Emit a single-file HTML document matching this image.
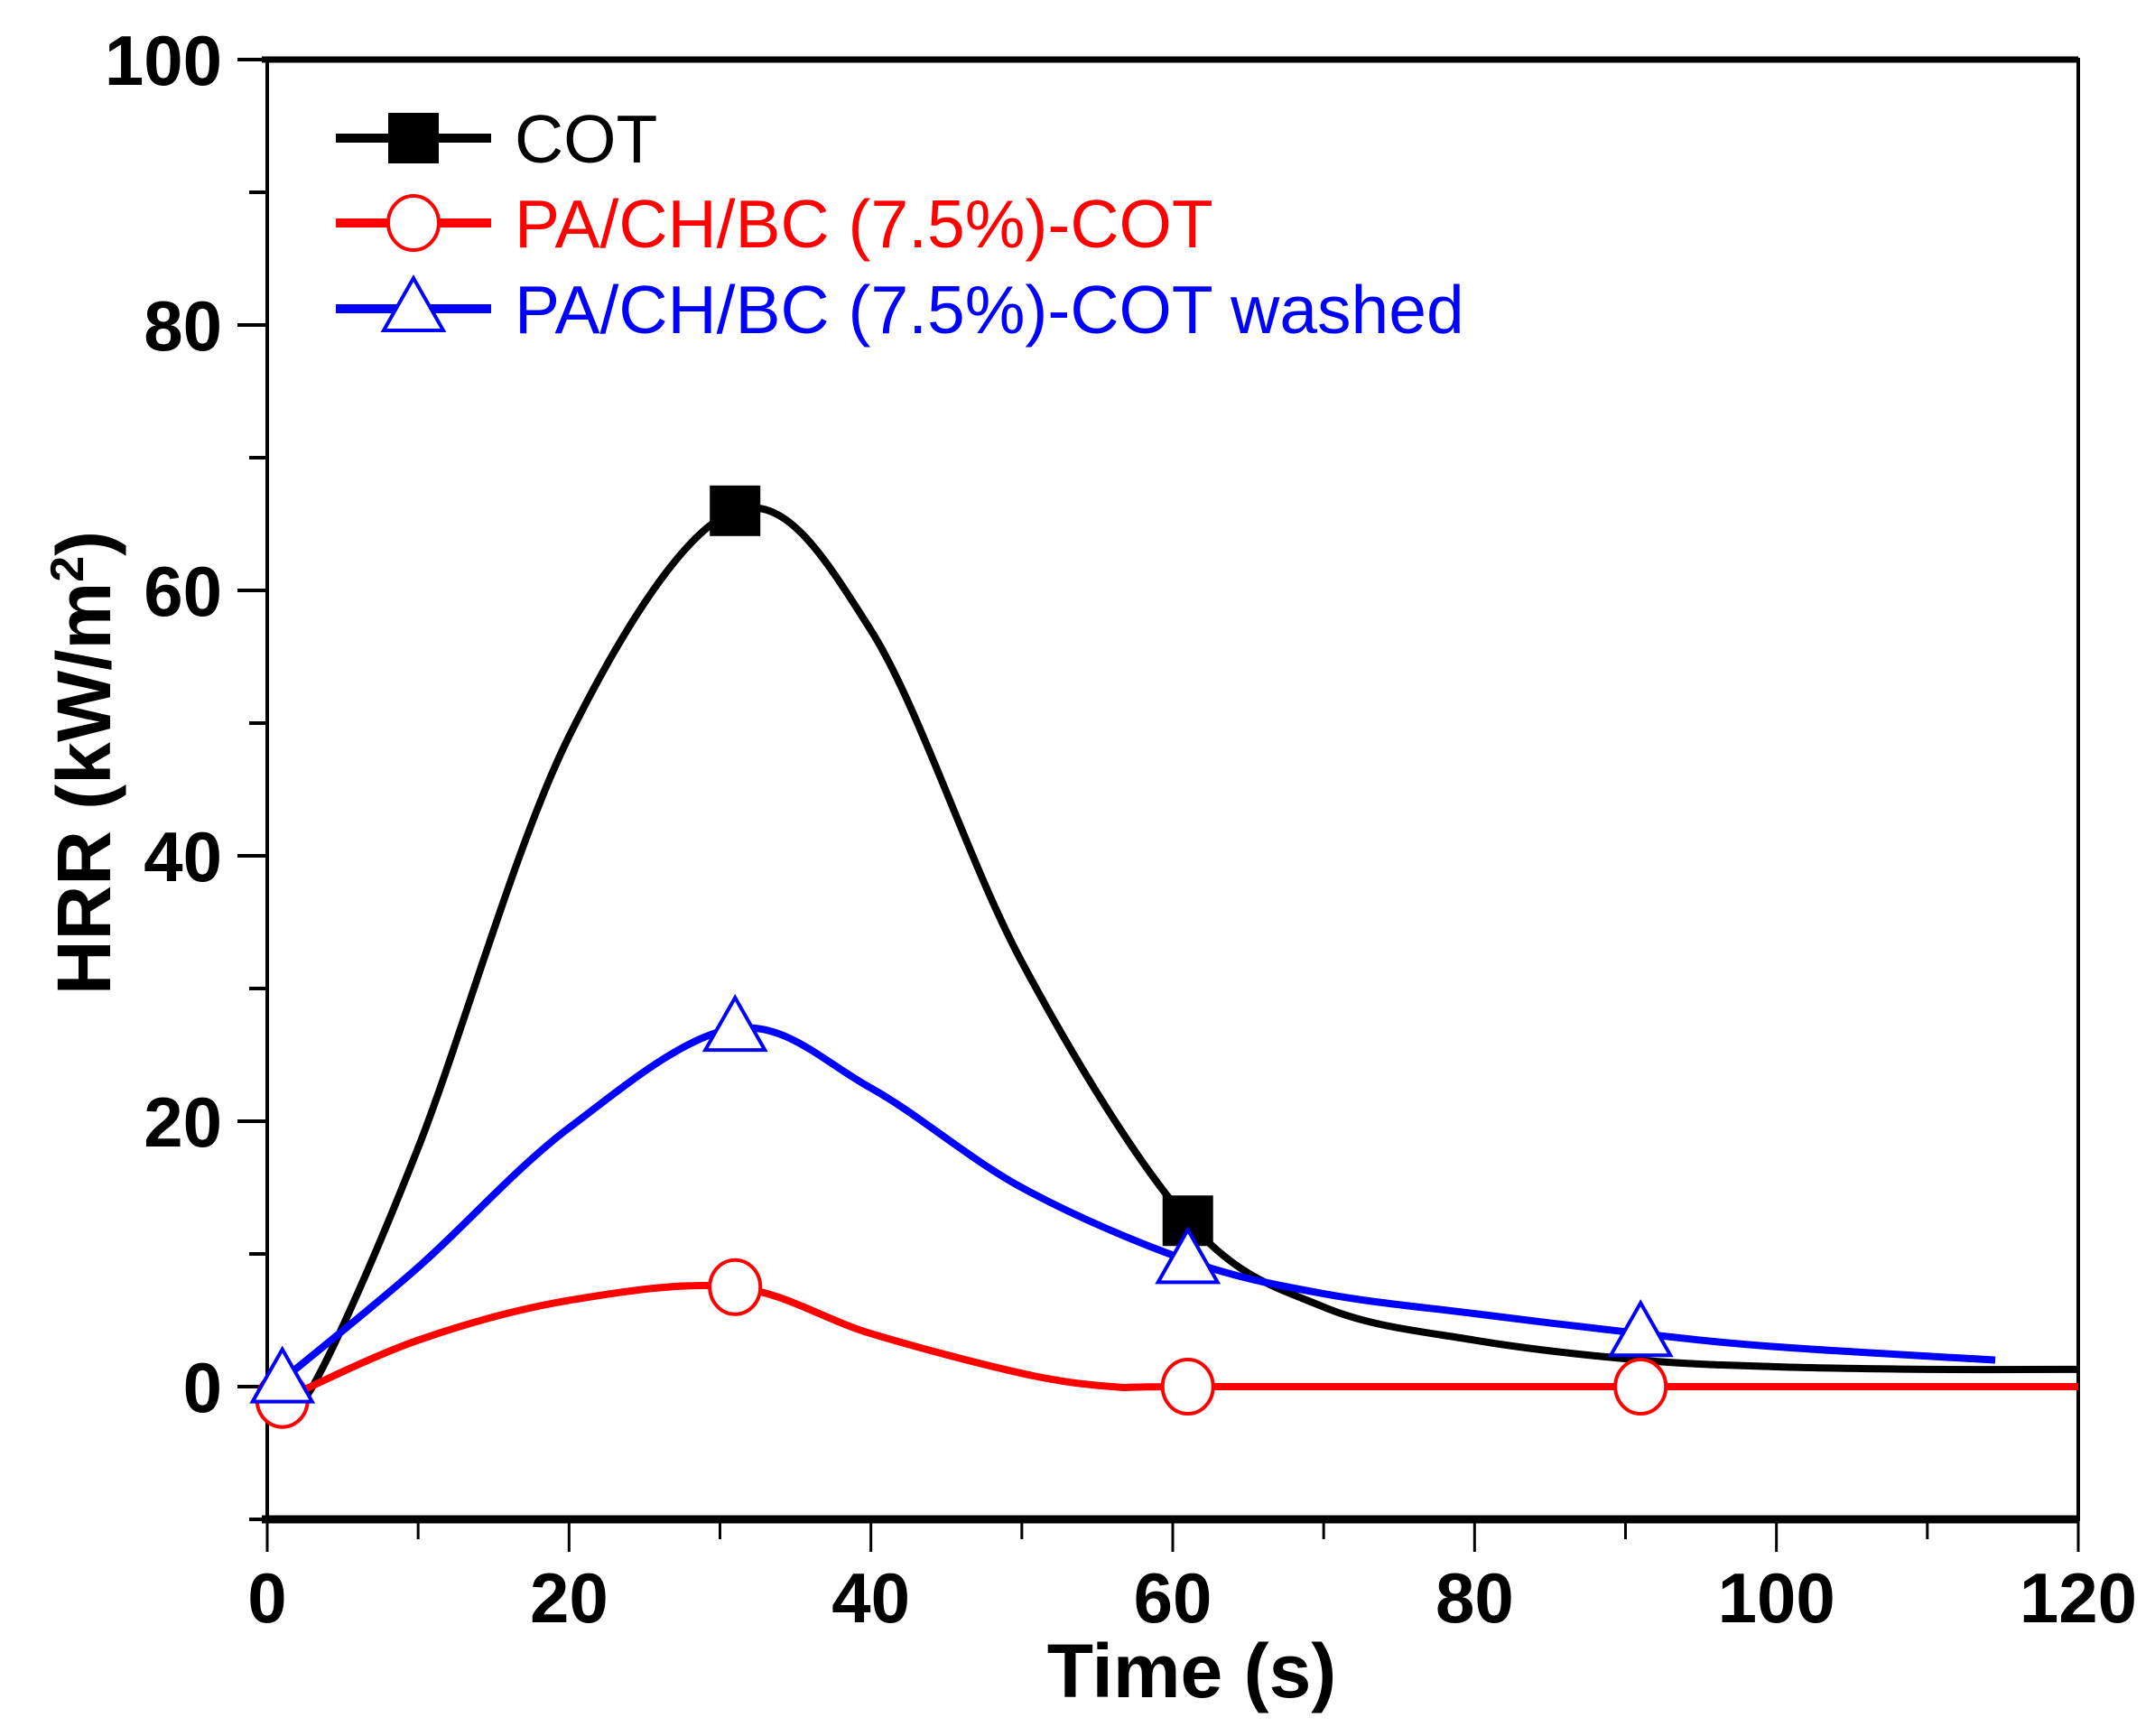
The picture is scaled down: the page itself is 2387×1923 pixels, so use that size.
<!DOCTYPE html>
<html><head><meta charset="utf-8"><style>
html,body{margin:0;padding:0;background:#fff;}
svg{display:block;font-family:"Liberation Sans",Arial,sans-serif;}
</style></head><body>
<svg id="chart" width="2387" height="1923" viewBox="0 0 2387 1923" xmlns="http://www.w3.org/2000/svg">
<rect width="2387" height="1923" fill="#fff"/>
<g id="plot"></g>
</svg>
<script>
const xTicks=[0,20,40,60,80,100,120];
const yTicks=[0,20,40,60,80,100];
const cotT=[1,3,10,20,31,40,50,61,70,80,91,100,110,120];
const cotV=[0,0,18,49,66,57,32,12.5,6,3.5,2,1.5,1.3,1.3];
const cotMarkT=[31,61];
const cotMarkV=[66,12.5];
const redT=[1,10,20,31,40,50,56,61,91,120];
const redV=[-1,3.5,6.5,7.5,4,1,0,0,0,0];
const redMarkT=[1,31,61,91];
const redMarkV=[-1,7.5,0,0];
const blueT=[1,10,20,31,40,50,61,70,80,91,100,114.5];
const blueV=[0.5,9,19.5,27,22.5,15,9.5,7,5.5,4,3,2];
const blueMarkT=[1,31,61,91];
const blueMarkV=[0.5,27,9.5,4];

const X0=296,X1=2302,Y0=1683,Y1=66;
const xMin=0,xMax=120,yMin=-10,yMax=100;
const sx=v=>X0+(v-xMin)/(xMax-xMin)*(X1-X0);
const sy=v=>Y0-(v-yMin)/(yMax-yMin)*(Y0-Y1);
const NS="http://www.w3.org/2000/svg";
const g=document.getElementById('plot');
function mk(tag,attrs,parent){const e=document.createElementNS(NS,tag);for(const k in attrs)e.setAttribute(k,attrs[k]);(parent||g).appendChild(e);return e;}

let fr=mk('rect',{x:X0,y:Y1,width:X1-X0,height:Y0-Y1,fill:'none',stroke:'#000','stroke-width':4});


let tp=mk('line',{x1:X0-6,y1:Y1,x2:X1,y2:Y1,stroke:'#000','stroke-width':7});


let bx=mk('line',{x1:X0-6,y1:Y0,x2:X1,y2:Y0,stroke:'#000','stroke-width':9});



for(let v=0;v<=120;v+=10){
  const major=v%20===0;
  let t=mk('line',{x1:sx(v),y1:Y0,x2:sx(v),y2:Y0+(major?36:22),stroke:'#000','stroke-width':3});
  
  
}
xTicks.forEach(v=>{
  let t=mk('text',{x:sx(v),y:1797,'text-anchor':'middle','font-size':78,'font-weight':'bold',fill:'#000'});
  t.textContent=v;
  
  
});
for(let v=-10;v<=100;v+=10){
  const major=v%20===0;
  let t=mk('line',{x1:X0,y1:sy(v),x2:X0-(major?33:20),y2:sy(v),stroke:'#000','stroke-width':4});
  
  
}
yTicks.forEach(v=>{
  let t=mk('text',{x:246,y:sy(v)+28,'text-anchor':'end','font-size':78,'font-weight':'bold',fill:'#000'});
  t.textContent=v;
  
  
});
let xt=mk('text',{x:1320,y:1880,'text-anchor':'middle','font-size':84,'font-weight':'bold',fill:'#000'});
xt.textContent='Time (s)';


let yt=mk('text',{x:0,y:0,'text-anchor':'middle','font-size':84,'font-weight':'bold',fill:'#000',transform:'translate(122,845) rotate(-90)'});
yt.innerHTML='HRR (kW/m<tspan dy="-30" font-size="52">2</tspan><tspan dy="30">)</tspan>';



function pathFrom(T,V){
  const p=T.map((t,i)=>[sx(t),sy(V[i])]);
  let d='M'+p[0][0]+','+p[0][1];
  for(let i=0;i<p.length-1;i++){
    const a=p[Math.max(0,i-1)],b=p[i],c=p[i+1],e=p[Math.min(p.length-1,i+2)];
    const c1=[b[0]+(c[0]-a[0])/6,b[1]+(c[1]-a[1])/6];
    const c2=[c[0]-(e[0]-b[0])/6,c[1]-(e[1]-b[1])/6];
    d+=' C'+c1[0]+','+c1[1]+' '+c2[0]+','+c2[1]+' '+c[0]+','+c[1];
  }
  return d;
}
function marker(type,x,y,color,name){
  let e;
  if(type==='square') e=mk('rect',{x:x-28,y:y-28,width:56,height:56,fill:color});
  else if(type==='circle') e=mk('ellipse',{cx:x,cy:y,rx:28,ry:30,fill:'#fff',stroke:color,'stroke-width':4});
  else e=mk('polygon',{points:`${x},${y-34} ${x-33},${y+24} ${x+33},${y+24}`,fill:'#fff',stroke:color,'stroke-width':4});
  
  
}
const series=[
  {T:cotT,V:cotV,MT:cotMarkT,MV:cotMarkV,c:'#000',m:'square',n:'cot'},
  {T:redT,V:redV,MT:redMarkT,MV:redMarkV,c:'#ff0000',m:'circle',n:'pa-ch-bc'},
  {T:blueT,V:blueV,MT:blueMarkT,MV:blueMarkV,c:'#0000ff',m:'triangle',n:'pa-ch-bc-washed'}
];
series.forEach(s=>{
  let p=mk('path',{d:pathFrom(s.T,s.V),fill:'none',stroke:s.c,'stroke-width':8,'stroke-linejoin':'round'});
  
  
});
series.forEach(s=>{
  s.MT.forEach((t,i)=>marker(s.m,sx(t),sy(s.MV[i]),s.c,s.n+'-marker'));
});
const legText=['COT','PA/CH/BC (7.5%)-COT','PA/CH/BC (7.5%)-COT washed'];
const legY=[153,247,342];
series.forEach((s,i)=>{
  let l=mk('line',{x1:372,y1:legY[i],x2:544,y2:legY[i],stroke:s.c,'stroke-width':10});
  
  
  marker(s.m,458,legY[i],s.c,'legend-marker');
  let t=mk('text',{x:570,y:legY[i]+27,'font-size':75,fill:s.c});
  t.textContent=legText[i];
  
  
});
</script>
</body></html>
